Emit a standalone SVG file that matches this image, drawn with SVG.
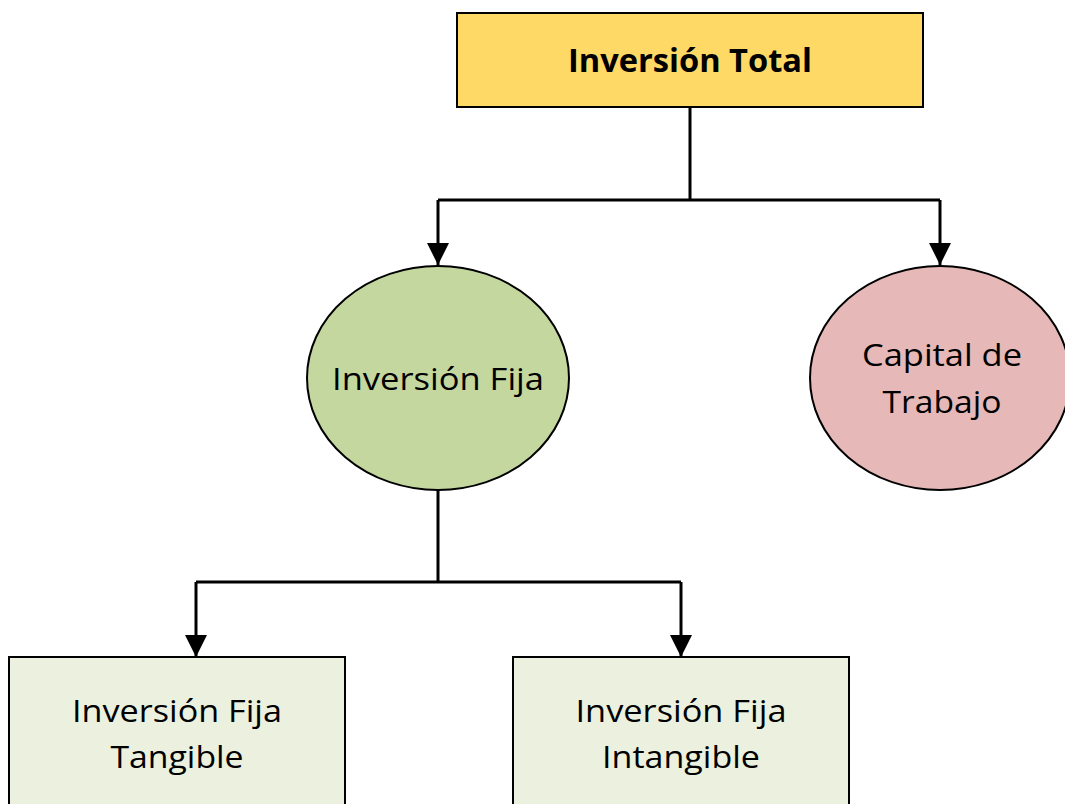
<svg xmlns="http://www.w3.org/2000/svg" width="1065" height="804" viewBox="0 0 1065 804">
<style>
.n{stroke:#000;stroke-width:2}
.t{font-family:"Open Sans",Lato,sans-serif;font-size:31px;fill:#000;text-anchor:middle}
.b{font-weight:bold;font-size:32px}
.c{fill:none;stroke:#000;stroke-width:3}
</style>
<defs>
<marker id="ah" markerUnits="userSpaceOnUse" markerWidth="22" markerHeight="24" refX="22" refY="11" orient="auto">
<path d="M0,0 L22,11 L0,22 Z" fill="#000"/>
</marker>
</defs>
<rect width="1065" height="804" fill="#fff"/>
<g id="connectors">
<path class="c" d="M690,107 V200"/>
<path class="c" d="M438,200 H940"/>
<path class="c" d="M438,200 V265" marker-end="url(#ah)"/>
<path class="c" d="M940,200 V265" marker-end="url(#ah)"/>
<path class="c" d="M438,490 V582"/>
<path class="c" d="M196,582 H681"/>
<path class="c" d="M196,582 V657" marker-end="url(#ah)"/>
<path class="c" d="M681,582 V657" marker-end="url(#ah)"/>
</g>
<g id="inversion-total">
<rect class="n" x="457" y="13" width="466" height="94" fill="#FFD966"/>
<text class="t b" x="690" y="72" textLength="244" lengthAdjust="spacingAndGlyphs">Inversión Total</text>
</g>
<g id="inversion-fija">
<ellipse class="n" cx="438" cy="378" rx="131" ry="112" fill="#C4D79F"/>
<text class="t" x="438" y="390" textLength="212" lengthAdjust="spacingAndGlyphs">Inversión Fija</text>
</g>
<g id="capital-trabajo">
<ellipse class="n" cx="940" cy="378" rx="130" ry="112" fill="#E6B8B7"/>
<text class="t" x="942" y="366" textLength="160" lengthAdjust="spacingAndGlyphs">Capital de</text>
<text class="t" x="942" y="413" textLength="119" lengthAdjust="spacingAndGlyphs">Trabajo</text>
</g>
<g id="fija-tangible">
<rect class="n" x="9" y="657" width="336" height="160" fill="#EBF1DE"/>
<text class="t" x="177" y="722" textLength="210" lengthAdjust="spacingAndGlyphs">Inversión Fija</text>
<text class="t" x="177" y="768" textLength="133" lengthAdjust="spacingAndGlyphs">Tangible</text>
</g>
<g id="fija-intangible">
<rect class="n" x="513" y="657" width="336" height="160" fill="#EBF1DE"/>
<text class="t" x="681" y="722" textLength="211" lengthAdjust="spacingAndGlyphs">Inversión Fija</text>
<text class="t" x="681" y="768" textLength="158" lengthAdjust="spacingAndGlyphs">Intangible</text>
</g>
</svg>
